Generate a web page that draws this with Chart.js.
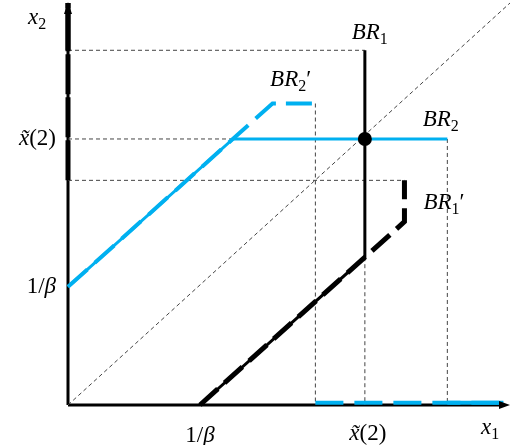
<!DOCTYPE html>
<html>
<head>
<meta charset="utf-8">
<script src="https://cdn.jsdelivr.net/npm/chart.js@4/dist/chart.umd.min.js"></script>
<style>
  html, body { margin: 0; padding: 0; background: #fff; overflow: hidden; }
  canvas { display: block; }
</style>
</head>
<body>
<canvas id="br" width="511" height="445"></canvas>
<script>
// Ключевые значения: 1/β и x̃(2)
const betaInv = 4;
const xTilde = 9;

// BR1 — сплошная чёрная
const br1X = [4, 9, 9];
const br1Y = [0, 5, 12];
const br1AxisX = [0, 0];
const br1AxisY = [12, 13.6];

// BR1' — чёрный пунктир
const br1pX = [4, 10.2, 10.2];
const br1pY = [0, 6.2, 7.6];
const br1pAxisX = [0, 0];
const br1pAxisY = [7.6, 13.6];

// BR2 — сплошная голубая
const br2X = [0, 5, 11.5];
const br2Y = [4, 9, 9];
const br2AxisX = [11.5, 13.2];
const br2AxisY = [0.08, 0.08];

// BR2' — голубой пунктир
const br2pX = [0, 6.2, 7.5];
const br2pY = [4, 10.2, 10.2];
const br2pAxisX = [7.5, 13.2];
const br2pAxisY = [0.08, 0.08];

// вспомогательные штриховые линии (null — разрыв)
const guideX = [0, 9, null, 0, 5, null, 0, 10.2, null, 7.5, 7.5, null, 9, 9, null, 11.5, 11.5, null, 0, 13.4];
const guideY = [12, 12, null, 9, 9, null, 7.6, 7.6, null, 10.2, 0, null, 5, 0, null, 9, 0, null, 0, 13.6];

// равновесие
const eqX = [xTilde];
const eqY = [xTilde];

const BLUE = '#00b0f0';

function pts(xs, ys) {
    return xs.map((x, i) => (x === null ? { x: NaN, y: NaN } : { x: x, y: ys[i] }));
}

function line(xs, ys, color, width, dash, order) {
    return {
        data: pts(xs, ys),
        showLine: true,
        borderColor: color,
        backgroundColor: color,
        borderWidth: width,
        borderDash: dash || [],
        pointRadius: 0,
        spanGaps: false,
        clip: false,
        order: order
    };
}

// Подписи: части текста, sub — нижний индекс, up — прямой шрифт
function drawParts(ctx, parts, x, y, align) {
    const fontOf = p => (p.up ? '' : 'italic ') + (p.sub ? '16px' : '23px') + ' "Liberation Serif", "DejaVu Serif", serif';
    let w = 0;
    parts.forEach(p => { ctx.font = fontOf(p); w += ctx.measureText(p.t).width; });
    let cx = align === 'right' ? x - w : align === 'center' ? x - w / 2 : x;
    ctx.textBaseline = 'middle';
    ctx.textAlign = 'left';
    parts.forEach(p => {
        ctx.font = fontOf(p);
        ctx.fillText(p.t, cx, p.sub ? y + 7 : y);
        cx += ctx.measureText(p.t).width;
    });
}

const xTildeText = [{ t: 'x\u0303' }, { t: '(2)', up: true }];
const betaText = [{ t: '1/', up: true }, { t: 'β' }];

const labelsPlugin = {
    id: 'labels',
    beforeDatasetsDraw(chart) {
        const { ctx, scales: { x, y } } = chart;
        const x0 = x.getPixelForValue(0), y0 = y.getPixelForValue(0);
        ctx.save();
        ctx.strokeStyle = '#000';
        ctx.lineWidth = 3;
        ctx.beginPath();
        ctx.moveTo(x0, y0);
        ctx.lineTo(x0, y.getPixelForValue(13.3));
        ctx.moveTo(x0, y0);
        ctx.lineTo(x.getPixelForValue(13.1), y0);
        ctx.stroke();
        ctx.restore();
    },
    afterDatasetsDraw(chart) {
        const { ctx, scales: { x, y } } = chart;
        const x0 = x.getPixelForValue(0), y0 = y.getPixelForValue(0);
        ctx.save();
        ctx.fillStyle = '#000';
        // стрелки осей
        const yt = y.getPixelForValue(13.6);
        ctx.beginPath();
        ctx.moveTo(x0, yt - 1);
        ctx.lineTo(x0 - 4, yt + 11);
        ctx.lineTo(x0 + 4, yt + 11);
        ctx.closePath();
        ctx.fill();
        const xr = x.getPixelForValue(13.4);
        ctx.beginPath();
        ctx.moveTo(xr, y0);
        ctx.lineTo(xr - 11, y0 - 4);
        ctx.lineTo(xr - 11, y0 + 4);
        ctx.closePath();
        ctx.fill();

        // подписи осей и отметок
        drawParts(ctx, [{ t: 'x' }, { t: '2', sub: true, up: true }], 28, 18, 'left');
        drawParts(ctx, [{ t: 'x' }, { t: '1', sub: true, up: true }], 481, 428, 'left');
        drawParts(ctx, xTildeText, x0 - 12, y.getPixelForValue(xTilde), 'right');
        drawParts(ctx, betaText, x0 - 12, y.getPixelForValue(betaInv), 'right');
        drawParts(ctx, betaText, x.getPixelForValue(betaInv), 436, 'center');
        drawParts(ctx, xTildeText, x.getPixelForValue(xTilde) + 3, 434, 'center');

        // подписи кривых
        const sub = n => ({ t: n, sub: true, up: true });
        drawParts(ctx, [{ t: 'BR' }, sub('1')], x.getPixelForValue(9.15), y.getPixelForValue(12.6), 'center');
        drawParts(ctx, [{ t: 'BR' }, sub('2')], x.getPixelForValue(11.3), y.getPixelForValue(9.66), 'center');
        drawParts(ctx, [{ t: 'BR' }, sub('2'), { t: '′', up: true }], x.getPixelForValue(6.75), y.getPixelForValue(11.0), 'center');
        drawParts(ctx, [{ t: 'BR' }, sub('1'), { t: '′', up: true }], x.getPixelForValue(11.4), y.getPixelForValue(6.85), 'center');
        ctx.restore();
    }
};

new Chart(document.getElementById('br'), {
    type: 'scatter',
    data: {
        datasets: [
            line(guideX, guideY, '#444', 1, [4, 3], 10),
            line(br1X, br1Y, '#000', 3, [], 5),
            line(br1AxisX, br1AxisY, '#000', 5, [], 5),
            line(br1pX, br1pY, '#000', 5, [24, 9], 4),
            line(br1pAxisX, br1pAxisY, '#000', 5, [40, 3], 4),
            line(br2X, br2Y, BLUE, 3, [], 3),
            line(br2AxisX, br2AxisY, BLUE, 4, [], 3),
            line(br2pX, br2pY, BLUE, 4, [26, 10], 2),
            line(br2pAxisX, br2pAxisY, BLUE, 4, [28, 11], 2),
            {
                data: pts(eqX, eqY),
                pointRadius: 7,
                pointBackgroundColor: '#000',
                pointBorderWidth: 0,
                clip: false,
                order: 0
            }
        ]
    },
    options: {
        responsive: false,
        animation: false,
        layout: { autoPadding: false, padding: { left: 68, right: 1, top: 3, bottom: 40 } },
        plugins: { legend: { display: false }, tooltip: { enabled: false } },
        scales: {
            x: { type: 'linear', min: 0, max: 13.4, display: false },
            y: { type: 'linear', min: 0, max: 13.6, display: false }
        }
    },
    plugins: [labelsPlugin]
});
</script>
</body>
</html>
